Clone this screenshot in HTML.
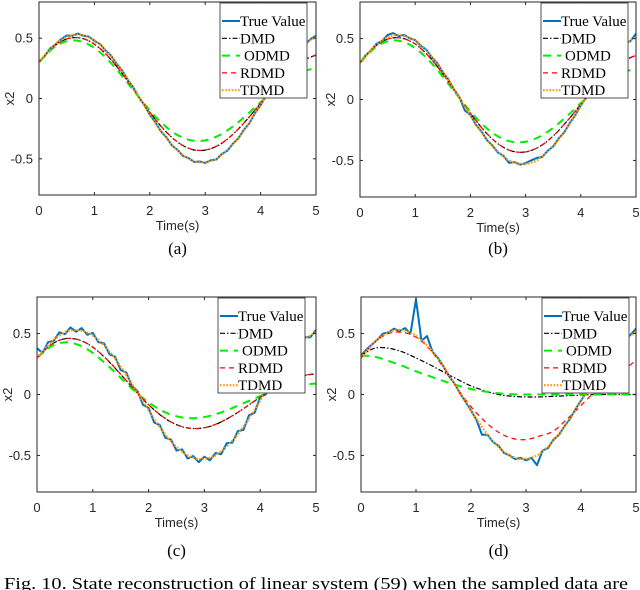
<!DOCTYPE html>
<html><head><meta charset="utf-8"><style>
html,body{margin:0;padding:0;background:#fff;}
svg{display:block;}
.tk{font-family:"Liberation Sans",sans-serif;font-size:13px;fill:#262626;}
.lg{font-family:"Liberation Serif",serif;font-size:15px;fill:#000;}
.cap{font-family:"Liberation Serif",serif;font-size:17px;fill:#000;}
</style></head><body>
<svg id="fig" width="640" height="590" viewBox="0 0 640 590" xmlns="http://www.w3.org/2000/svg">
<text class="cap" x="4" y="589" textLength="624" lengthAdjust="spacingAndGlyphs">Fig. 10.  State reconstruction of linear system (59) when the sampled data are</text>
</svg>
<script>
// ---- data ----
const tSmooth = [0,0.25,0.5,0.75,1,1.25,1.5,1.75,2,2.25,2.5,2.75,3,3.25,3.5,3.75,4,4.25,4.5,4.75,5];
const tFine = [0,0.1,0.2,0.3,0.4,0.5,0.6,0.7,0.8,0.9,1,1.1,1.2,1.3,1.4,1.5,1.6,1.7,1.8,1.9,2,2.1,2.2,2.3,2.4,2.5,2.6,2.7,2.8,2.9,3,3.1,3.2,3.3,3.4,3.5,3.6,3.7,3.8,3.9,4,4.1,4.2,4.3,4.4,4.5,4.6,4.7,4.8,4.9,5];
const xTicks = [0,1,2,3,4,5];
const yTicks = [0.5,0,-0.5];
const yTickLabels = ["0.5","0","-0.5"];
const legendLabels = ["True Value","DMD","ODMD","RDMD","TDMD"];
const panelLabels = ["(a)","(b)","(c)","(d)"];

const tdmdAll = [.299,.357,.408,.452,.485,.510,.525,.530,.524,.508,.483,.447,.404,.352,.294,.229,.160,.089,.015,-.058,-.131,-.202,-.267,-.328,-.384,-.430,-.470,-.499,-.519,-.529,-.528,-.518,-.500,-.466,-.427,-.379,-.325,-.264,-.198,-.125,-.052,.022,.095,.167,.234,.300,.349,.398,.451,.485,.510];

const trueA = [.305,.350,.415,.448,.492,.522,.520,.538,.520,.513,.478,.452,.398,.357,.288,.234,.155,.094,.010,-.052,-.136,-.197,-.272,-.322,-.390,-.425,-.477,-.494,-.526,-.522,-.535,-.512,-.506,-.460,-.433,-.374,-.330,-.258,-.204,-.120,-.057,.027,.090,.172,.228,.306,.343,.404,.445,.492,.520];
const trueB = [.300,.362,.402,.458,.480,.530,.545,.520,.530,.502,.488,.441,.410,.346,.299,.223,.166,.083,.020,-.090,-.126,-.208,-.262,-.334,-.378,-.436,-.462,-.520,-.514,-.535,-.522,-.500,-.480,-.472,-.420,-.385,-.318,-.270,-.192,-.130,-.047,.016,.100,.162,.240,.294,.355,.392,.457,.480,.540];
const trueC = [.380,.340,.430,.440,.510,.495,.550,.515,.545,.490,.505,.430,.420,.330,.310,.200,.180,.070,.030,-.085,-.110,-.230,-.250,-.355,-.370,-.460,-.450,-.525,-.505,-.555,-.510,-.540,-.480,-.490,-.400,-.395,-.300,-.290,-.170,-.150,-.020,.000,.120,.150,.260,.280,.370,.380,.470,.470,.530];
const trueD = [.320,.370,.410,.450,.500,.510,.540,.520,.545,.500,.780,.440,.480,.350,.300,.230,.150,.090,.010,-.060,-.130,-.210,-.330,-.330,-.390,-.420,-.480,-.500,-.530,-.520,-.540,-.520,-.580,-.460,-.440,-.370,-.330,-.260,-.200,-.120,-.050,.020,.100,.160,.240,.300,.350,.400,.450,.490,.540];

const dmdA = [0.30,0.424,0.493,0.501,0.450,0.347,0.206,0.046,-0.114,-0.255,-0.361,-0.421,-0.428,-0.385,-0.297,-0.177,-0.039,0.098,0.219,0.309,0.360];
const odmdA = [0.30,0.416,0.475,0.475,0.420,0.318,0.186,0.041,-0.099,-0.218,-0.303,-0.347,-0.347,-0.306,-0.232,-0.136,-0.030,0.073,0.160,0.222,0.253];
const rdmdA = [0.30,0.425,0.494,0.502,0.451,0.348,0.207,0.047,-0.113,-0.254,-0.360,-0.420,-0.427,-0.384,-0.296,-0.176,-0.038,0.099,0.220,0.310,0.362];
const dmdB = [0.30,0.426,0.496,0.504,0.455,0.352,0.210,0.048,-0.113,-0.256,-0.363,-0.423,-0.430,-0.387,-0.299,-0.178,-0.040,0.098,0.220,0.310,0.362];
const odmdB = [0.30,0.418,0.478,0.478,0.422,0.320,0.187,0.041,-0.099,-0.218,-0.303,-0.347,-0.347,-0.306,-0.232,-0.136,-0.030,0.073,0.160,0.222,0.253];
const rdmdB = [0.30,0.426,0.496,0.504,0.455,0.352,0.210,0.048,-0.113,-0.256,-0.363,-0.423,-0.430,-0.387,-0.299,-0.178,-0.040,0.098,0.220,0.310,0.362];
const dmdC = [0.30,0.408,0.457,0.448,0.388,0.288,0.165,0.035,-0.084,-0.182,-0.248,-0.278,-0.273,-0.236,-0.175,-0.101,-0.022,0.052,0.112,0.152,0.170];
const odmdC = [0.30,0.395,0.428,0.406,0.341,0.245,0.136,0.028,-0.065,-0.136,-0.179,-0.195,-0.185,-0.155,-0.111,-0.062,-0.013,0.030,0.062,0.082,0.089];
const rdmdC = [0.30,0.409,0.458,0.449,0.389,0.289,0.166,0.036,-0.083,-0.181,-0.247,-0.277,-0.272,-0.235,-0.174,-0.100,-0.021,0.053,0.113,0.153,0.172];
const dmdD = [0.32,0.38,0.38,0.35,0.30,0.245,0.185,0.125,0.07,0.03,0.0,-0.015,-0.02,-0.02,-0.015,-0.01,-0.005,0,0,0,0];
const odmdD = [0.32,0.31,0.275,0.235,0.19,0.15,0.11,0.075,0.045,0.025,0.01,0.002,0,0,0,0,0,0,0,0,0];
const rdmdD = [0.30,0.43,0.50,0.51,0.47,0.37,0.22,0.05,-0.10,-0.22,-0.31,-0.36,-0.37,-0.34,-0.30,-0.20,-0.09,0.02,0.10,0.19,0.28];

const trueSets = [trueA,trueB,trueC,trueD];
const dmdSets = [dmdA,dmdB,dmdC,dmdD];
const odmdSets = [odmdA,odmdB,odmdC,odmdD];
const rdmdSets = [rdmdA,rdmdB,rdmdC,rdmdD];

// ---- geometry ----
const geo = [
  {L:39,R:316,T:2,B:195,capY:248},
  {L:360,R:636,T:2,B:197,capY:248},
  {L:37,R:316,T:297,B:492,capY:550},
  {L:361,R:636,T:297,B:492,capY:550}
];
const NS="http://www.w3.org/2000/svg";
const svg=document.getElementById('fig');
function mk(tag,attrs,parent){const e=document.createElementNS(NS,tag);for(const k in attrs)e.setAttribute(k,attrs[k]);(parent||svg).appendChild(e);return e;}
function smoothPath(pts){
  let d="M"+pts[0][0].toFixed(2)+","+pts[0][1].toFixed(2);
  for(let i=0;i<pts.length-1;i++){
    const p0=pts[Math.max(0,i-1)],p1=pts[i],p2=pts[i+1],p3=pts[Math.min(pts.length-1,i+2)];
    const c1=[p1[0]+(p2[0]-p0[0])/6,p1[1]+(p2[1]-p0[1])/6];
    const c2=[p2[0]-(p3[0]-p1[0])/6,p2[1]-(p3[1]-p1[1])/6];
    d+=" C"+c1[0].toFixed(2)+","+c1[1].toFixed(2)+" "+c2[0].toFixed(2)+","+c2[1].toFixed(2)+" "+p2[0].toFixed(2)+","+p2[1].toFixed(2);
  }
  return d;
}
const styles=[
  {stroke:"#0072BD",w:2,dash:"",name:"true-value"},
  {stroke:"#000",w:1.2,dash:"5,2,1.5,2",name:"dmd"},
  {stroke:"#00ee00",w:2,dash:"8,6",name:"odmd"},
  {stroke:"#ff0000",w:1.2,dash:"5,4",name:"rdmd"},
  {stroke:"#ff9900",w:2.2,dash:"1.6,1.6",name:"tdmd"}
];
geo.forEach((g,pi)=>{
  const grp=mk('g',{});
  
  
  const x=t=>g.L+t/5*(g.R-g.L);
  const y0=(g.T+g.B)/2,k=(g.B-g.T)/1.6;
  const y=v=>y0-v*k;
  mk('rect',{x:g.L,y:g.T,width:g.R-g.L,height:g.B-g.T,fill:"#fff",stroke:"none"},grp);
  const cp=mk('clipPath',{id:'clip'+pi},grp);
  mk('rect',{x:g.L,y:g.T,width:g.R-g.L,height:g.B-g.T},cp);
  const plot=mk('g',{'clip-path':'url(#clip'+pi+')'},grp);
  const sets=[trueSets[pi],dmdSets[pi],odmdSets[pi],rdmdSets[pi],tdmdAll];
  sets.forEach((arr,si)=>{
    const ts = (arr.length===tFine.length)?tFine:tSmooth;
    const pts=arr.map((v,i)=>[x(ts[i]),y(v)]);
    const st=styles[si];
    const d = si===0 ? "M"+pts.map(p=>p[0].toFixed(2)+","+p[1].toFixed(2)).join(" L") : smoothPath(pts);
    const p=mk('path',{d:d,fill:"none",stroke:st.stroke,'stroke-width':st.w,'stroke-dasharray':st.dash,'stroke-linejoin':'round'},plot);
    
    
  });
  const box=mk('rect',{x:g.L,y:g.T,width:g.R-g.L,height:g.B-g.T,fill:"none",stroke:"#262626",'stroke-width':1},grp);
  
  
  xTicks.forEach(t=>{
    mk('line',{x1:x(t),x2:x(t),y1:g.B,y2:g.B-3,stroke:"#262626"},grp);
    mk('line',{x1:x(t),x2:x(t),y1:g.T,y2:g.T+3,stroke:"#262626"},grp);
    const tl=mk('text',{x:x(t),y:g.B+20,'text-anchor':'middle',class:'tk'},grp);
    tl.textContent=String(t);
    
    
  });
  yTicks.forEach((v,i)=>{
    mk('line',{x1:g.L,x2:g.L+3,y1:y(v),y2:y(v),stroke:"#262626"},grp);
    mk('line',{x1:g.R,x2:g.R-3,y1:y(v),y2:y(v),stroke:"#262626"},grp);
    const tl=mk('text',{x:g.L-6,y:y(v)+4.5,'text-anchor':'end',class:'tk'},grp);
    tl.textContent=yTickLabels[i];
    
    
  });
  const xl=mk('text',{x:(g.L+g.R)/2,y:g.B+35,'text-anchor':'middle',class:'tk'},grp);
  xl.textContent="Time(s)";
  
  
  const yl=mk('text',{x:0,y:0,'text-anchor':'middle',class:'tk',transform:'translate('+(g.L-25)+','+y0+') rotate(-90)'},grp);
  yl.textContent="x2";
  
  
  const lx=g.L+181,ly=g.T+1,lw=87,lh=95;
  const lg=mk('g',{},grp);
  
  
  mk('rect',{x:lx,y:ly,width:lw,height:lh,fill:"#fff",stroke:"#262626",'stroke-width':0.8},lg);
  legendLabels.forEach((lab,i)=>{
    const cy=ly+18+i*17.3;
    const st=styles[i];
    mk('line',{x1:lx+2,x2:lx+20,y1:cy,y2:cy,stroke:st.stroke,'stroke-width':st.w,'stroke-dasharray':st.dash},lg);
    const tx=mk('text',{x:lx+(i===2?24:20),y:cy+5,class:'lg'},lg);
    tx.textContent=lab;
    
    
  });
  const cap=mk('text',{x:(g.L+g.R)/2,y:g.capY+6,'text-anchor':'middle',class:'cap'},grp);
  cap.textContent=panelLabels[pi];
  
  
});
</script>
</body></html>
